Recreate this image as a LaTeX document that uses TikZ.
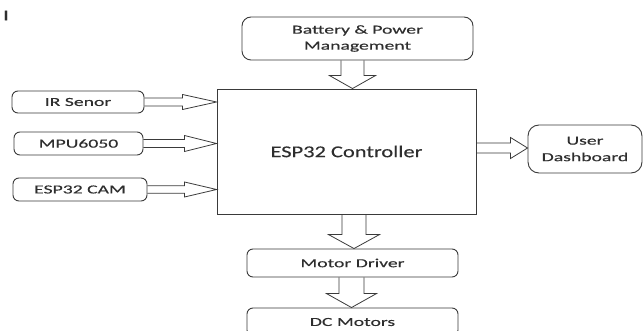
\documentclass[tikz,border=0pt]{standalone}
\usepackage{fontspec}
\setmainfont{Carlito}
\newfontfamily\smallf[FakeStretch=1.6,FakeBold=0.4]{Carlito}
\newfontfamily\bigf[FakeStretch=1.36,FakeBold=0.4]{Carlito}
\usetikzlibrary{calc}
\definecolor{ln}{HTML}{3A3A3A}
\definecolor{tx}{HTML}{2E2E2E}
% right-pointing block arrow: #1 start (x used), #2 tip, #3 shaft half, #4 head half, #5 head length
\newcommand\blkR[5]{\draw[blk] let \p1=(#1), \p2=(#2) in
  (\x1,\y2+#3) -- (\x2-#5,\y2+#3) -- (\x2-#5,\y2+#4) -- (\x2,\y2)
  -- (\x2-#5,\y2-#4) -- (\x2-#5,\y2-#3) -- (\x1,\y2-#3);}
% down-pointing block arrow: #1 start (y used), #2 tip
\newcommand\blkD[5]{\draw[blk] let \p1=(#1), \p2=(#2) in
  (\x2-#3,\y1) -- (\x2-#3,\y2+#5) -- (\x2-#4,\y2+#5) -- (\x2,\y2)
  -- (\x2+#4,\y2+#5) -- (\x2+#3,\y2+#5) -- (\x2+#3,\y1);}
\begin{document}
\begin{tikzpicture}[x=1pt,y=-1pt,
  box/.style={draw=ln, line width=0.9pt, rounded corners=6pt, inner sep=0pt,
    align=center, text=tx, font=\smallf\fontsize{12.3}{16}\selectfont},
  blk/.style={draw=ln, line width=0.8pt, line join=miter}]
\useasboundingbox (0,0) rectangle (643,331);
\begin{scope}
\clip (0,0) rectangle (643,331);
\node[text=tx, font=\smallf\fontsize{15}{15}\selectfont, inner sep=0pt] (cur) at (6,15.5) {I};
\node[box, rounded corners=9pt, minimum width=231pt, minimum height=43pt] (bat) at (357.5,38.5) {Battery \& Power\\Management};
\node[draw=ln, line width=0.9pt, inner sep=0pt, minimum width=259pt, minimum height=125pt,
  text=tx, font=\bigf\fontsize{16.5}{20}\selectfont] (esp) at (346.5,151.5) {ESP32 Controller};
\node[box, minimum width=132pt, minimum height=22pt] (ir) at (78,102) {IR Senor};
\node[box, minimum width=129pt, minimum height=23pt] (mpu) at (78.5,143.5) {MPU6050};
\node[box, minimum width=134pt, minimum height=23pt] (cam) at (80,189.5) {ESP32 CAM};
\node[box, rounded corners=11pt, minimum width=114pt, minimum height=48pt] (usr) at (585,149) {User\\[0.5pt]Dashboard};
\node[box, minimum width=211pt, minimum height=28pt] (md) at (352.5,263) {Motor Driver};
\node[box, minimum width=211pt, minimum height=28pt] (dc) at (352.5,322) {DC Motors};
% arrows
\blkR{ir.east}{ir.east -| esp.west}{4pt}{7.5pt}{34pt}
\blkR{mpu.east}{mpu.east -| esp.west}{4pt}{8pt}{32pt}
\blkR{cam.east}{cam.east -| esp.west}{3.8pt}{7.5pt}{32pt}
\blkR{esp.east}{$(usr.west)+(0,-1)$}{5pt}{10.5pt}{17pt}
\blkD{bat.south}{$(esp.north)+(6,0)$}{11.5pt}{23pt}{13pt}
\blkD{esp.south}{$(md.north)+(1.5,0)$}{12pt}{25.5pt}{14pt}
\blkD{md.south}{$(dc.north)+(-1,0)$}{12.5pt}{25pt}{14pt}
\end{scope}
\end{tikzpicture}
\end{document}
